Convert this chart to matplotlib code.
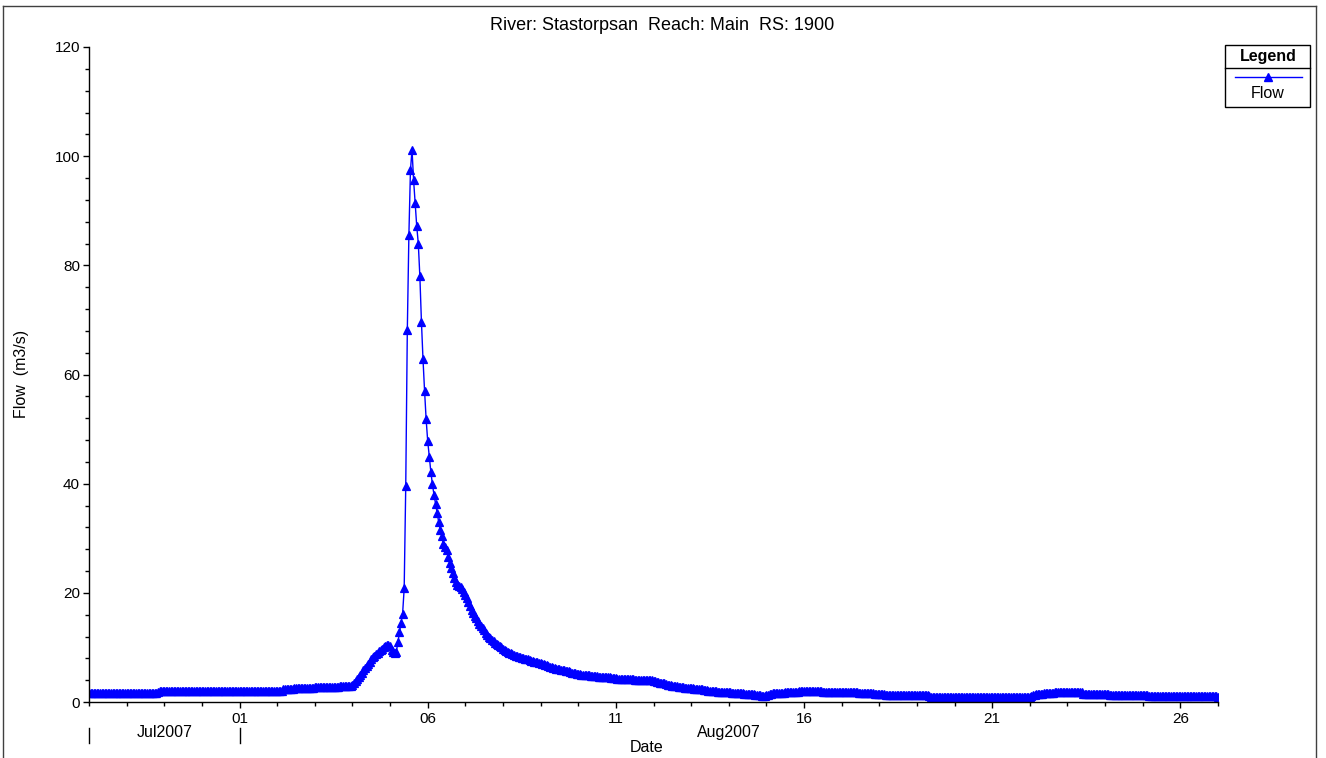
import numpy as np
import pandas as pd
import matplotlib
matplotlib.use("Agg")
import matplotlib.pyplot as plt
import matplotlib.dates as mdates
import matplotlib.transforms as mtransforms
from matplotlib.lines import Line2D
from matplotlib.patches import Rectangle

plt.rcParams['font.family'] = ['Liberation Sans', 'DejaVu Sans']

# hourly flow (m3/s), one row per day, starting 28 Jul 2007 00:00
start_time = "2007-07-28 00:00"
flow = [
    1.7, 1.7, 1.7, 1.7, 1.7, 1.7, 1.7, 1.7, 1.7, 1.7, 1.7, 1.7, 1.7, 1.7, 1.7, 1.7, 1.7, 1.7, 1.7, 1.7, 1.7, 1.7, 1.7, 1.7,
    1.7, 1.7, 1.7, 1.7, 1.7, 1.7, 1.7, 1.7, 1.7, 1.7, 1.7, 1.7, 1.7, 1.7, 1.7, 1.7, 1.7, 1.7, 1.7, 1.7, 1.9, 2.0, 2.0, 2.0,
    2.0, 2.0, 2.0, 2.0, 2.0, 2.0, 2.0, 2.0, 2.0, 2.0, 2.0, 2.0, 2.0, 2.0, 2.0, 2.0, 2.0, 2.0, 2.0, 2.0, 2.0, 2.0, 2.0, 2.0,
    2.0, 2.0, 2.0, 2.0, 2.0, 2.0, 2.0, 2.0, 2.0, 2.0, 2.0, 2.0, 2.0, 2.0, 2.0, 2.0, 2.0, 2.0, 2.0, 2.0, 2.0, 2.0, 2.0, 2.0,
    2.0, 2.0, 2.0, 2.0, 2.0, 2.0, 2.0, 2.0, 2.0, 2.0, 2.0, 2.0, 2.0, 2.0, 2.0, 2.0, 2.0, 2.0, 2.0, 2.0, 2.0, 2.0, 2.0, 2.0,
    2.0, 2.0, 2.0, 2.0, 2.3, 2.3, 2.3, 2.3, 2.3, 2.3, 2.3, 2.5, 2.5, 2.5, 2.5, 2.5, 2.5, 2.5, 2.5, 2.5, 2.5, 2.5, 2.5, 2.5,
    2.7, 2.7, 2.7, 2.7, 2.7, 2.7, 2.7, 2.7, 2.7, 2.7, 2.7, 2.7, 2.7, 2.7, 2.7, 2.7, 2.9, 2.9, 2.9, 2.9, 2.9, 2.9, 2.9, 2.9,
    3.1, 3.4, 3.8, 4.2, 4.6, 5.0, 5.4, 5.9, 6.3, 6.6, 7.0, 7.4, 7.8, 8.2, 8.5, 8.8, 9.0, 9.3, 9.5, 9.8, 10.0, 10.2, 10.4, 10.5,
    10.2, 9.6, 9.1, 8.9, 9.2, 11.0, 12.9, 14.5, 16.2, 20.8, 39.6, 68.1, 85.5, 97.4, 101.2, 95.6, 91.5, 87.2, 84.0, 78.0, 69.7, 62.8, 57.0, 51.8,
    47.8, 44.9, 42.2, 39.9, 38.0, 36.3, 34.6, 33.0, 31.5, 30.4, 28.9, 28.4, 27.8, 26.6, 25.4, 24.5, 23.6, 22.7, 22.0, 21.5, 21.2, 21.0, 20.7, 20.2,
    19.6, 19.0, 18.3, 17.6, 16.9, 16.3, 15.8, 15.3, 14.8, 14.3, 13.9, 13.5, 13.1, 12.7, 12.3, 12.0, 11.7, 11.4, 11.1, 10.8, 10.6, 10.4, 10.2, 10.0,
    9.8, 9.6, 9.4, 9.2, 9.0, 8.9, 8.8, 8.7, 8.5, 8.4, 8.3, 8.2, 8.1, 8.0, 7.9, 7.8, 7.8, 7.7, 7.6, 7.5, 7.4, 7.3, 7.3, 7.2,
    7.1, 7.0, 6.9, 6.8, 6.7, 6.6, 6.5, 6.4, 6.3, 6.2, 6.1, 6.0, 6.0, 5.9, 5.8, 5.8, 5.7, 5.6, 5.6, 5.5, 5.4, 5.3, 5.3, 5.2,
    5.1, 5.1, 5.0, 5.0, 5.0, 4.9, 4.9, 4.9, 4.8, 4.8, 4.7, 4.7, 4.7, 4.6, 4.6, 4.6, 4.5, 4.5, 4.5, 4.5, 4.5, 4.4, 4.4, 4.4,
    4.4, 4.3, 4.3, 4.3, 4.3, 4.3, 4.2, 4.2, 4.2, 4.2, 4.2, 4.2, 4.1, 4.1, 4.1, 4.1, 4.1, 4.1, 4.1, 4.1, 4.1, 4.0, 4.0, 4.0,
    3.9, 3.8, 3.7, 3.6, 3.5, 3.5, 3.4, 3.4, 3.3, 3.2, 3.2, 3.1, 3.0, 3.0, 2.9, 2.9, 2.8, 2.8, 2.7, 2.7, 2.6, 2.6, 2.6, 2.5,
    2.5, 2.5, 2.4, 2.4, 2.4, 2.3, 2.3, 2.3, 2.2, 2.2, 2.2, 2.1, 2.1, 2.1, 2.0, 2.0, 2.0, 1.9, 1.9, 1.9, 1.9, 1.8, 1.8, 1.8,
    1.8, 1.8, 1.7, 1.7, 1.7, 1.7, 1.6, 1.6, 1.6, 1.6, 1.5, 1.5, 1.5, 1.5, 1.4, 1.4, 1.4, 1.3, 1.3, 1.2, 1.2, 1.1, 1.1, 1.1,
    1.2, 1.3, 1.4, 1.5, 1.6, 1.6, 1.7, 1.7, 1.7, 1.7, 1.7, 1.7, 1.8, 1.8, 1.8, 1.8, 1.8, 1.8, 1.9, 1.9, 1.9, 2.0, 2.0, 2.0,
    2.0, 2.0, 2.0, 2.0, 2.0, 2.0, 2.0, 2.0, 2.0, 2.0, 2.0, 2.0, 1.9, 1.9, 1.9, 1.9, 1.9, 1.9, 1.9, 1.9, 1.9, 1.9, 1.9, 1.9,
    1.9, 1.9, 1.9, 1.9, 1.9, 1.9, 1.8, 1.8, 1.8, 1.8, 1.8, 1.7, 1.7, 1.7, 1.7, 1.6, 1.6, 1.6, 1.6, 1.6, 1.6, 1.5, 1.5, 1.5,
    1.5, 1.4, 1.4, 1.4, 1.3, 1.3, 1.3, 1.3, 1.3, 1.3, 1.3, 1.3, 1.3, 1.3, 1.3, 1.3, 1.3, 1.3, 1.3, 1.3, 1.3, 1.3, 1.3, 1.3,
    1.3, 1.3, 1.3, 1.3, 1.3, 1.3, 1.3, 1.2, 1.1, 1.0, 1.0, 1.0, 1.0, 1.0, 1.0, 1.0, 1.0, 1.0, 1.0, 1.0, 1.0, 1.0, 1.0, 1.0,
    1.0, 1.0, 1.0, 1.0, 1.0, 1.0, 1.0, 1.0, 1.0, 1.0, 1.0, 1.0, 1.0, 1.0, 1.0, 1.0, 1.0, 1.0, 1.0, 1.0, 1.0, 1.0, 1.0, 1.0,
    1.0, 1.0, 1.0, 1.0, 1.0, 1.0, 1.0, 1.0, 1.0, 1.0, 1.0, 1.0, 1.0, 1.0, 1.0, 1.0, 1.0, 1.0, 1.0, 1.0, 1.0, 1.0, 1.0, 1.0,
    1.0, 1.1, 1.2, 1.3, 1.4, 1.5, 1.5, 1.5, 1.5, 1.6, 1.6, 1.6, 1.7, 1.7, 1.7, 1.7, 1.8, 1.8, 1.8, 1.8, 1.8, 1.8, 1.8, 1.8,
    1.8, 1.8, 1.8, 1.8, 1.8, 1.8, 1.8, 1.8, 1.8, 1.8, 1.5, 1.5, 1.5, 1.5, 1.5, 1.5, 1.5, 1.5, 1.5, 1.5, 1.5, 1.5, 1.5, 1.5,
    1.5, 1.5, 1.5, 1.3, 1.3, 1.3, 1.3, 1.3, 1.3, 1.3, 1.3, 1.3, 1.3, 1.3, 1.3, 1.3, 1.3, 1.3, 1.3, 1.3, 1.3, 1.3, 1.3, 1.3,
    1.3, 1.3, 1.3, 1.3, 1.1, 1.1, 1.1, 1.1, 1.1, 1.1, 1.1, 1.1, 1.1, 1.1, 1.1, 1.1, 1.1, 1.1, 1.1, 1.1, 1.1, 1.1, 1.1, 1.1,
    1.1, 1.1, 1.1, 1.1, 1.1, 1.1, 1.1, 1.1, 1.1, 1.1, 1.1, 1.1, 1.1, 1.1, 1.1, 1.1, 1.1, 1.1, 1.1, 1.1, 1.1, 1.1, 1.1, 1.1,
    0.9,
]

title = "River: Stastorpsan  Reach: Main  RS: 1900"
month_labels = ["Jul2007", "Aug2007"]
month_edges = ["2007-07-28", "2007-08-01", "2007-08-27"]

times = pd.date_range(start_time, periods=len(flow), freq="h")

W, H = 1326, 758
fig = plt.figure(figsize=(W / 100, H / 100), dpi=100)

def fx(px):
    return px / W

def fy(py):
    return 1 - py / H

# axes box in pixels: x 89..1218, y 47..702
ax = fig.add_axes([fx(89), fy(702), fx(1218 - 89), (702 - 47) / H])
ax.plot(times, flow, color="#0000FF", lw=1.0, marker="^", markersize=5.5,
        markeredgewidth=0.9, markeredgecolor="#0000FF")

edges = pd.to_datetime(month_edges)
ax.set_xlim(edges[0], edges[-1])
ax.set_ylim(0, 120)

ax.spines["top"].set_visible(False)
ax.spines["right"].set_visible(False)
ax.spines["left"].set_linewidth(1.0)
ax.spines["bottom"].set_linewidth(1.0)

ax.xaxis.set_major_locator(mdates.DayLocator(bymonthday=[1, 6, 11, 16, 21, 26]))
ax.xaxis.set_minor_locator(mdates.DayLocator())
ax.xaxis.set_major_formatter(mdates.DateFormatter("%d"))
ax.yaxis.set_major_locator(plt.MultipleLocator(20))
ax.yaxis.set_minor_locator(plt.MultipleLocator(4))

ax.tick_params(axis="x", which="major", direction="out", length=4, width=1, pad=3.5, labelsize=11)
ax.tick_params(axis="x", which="minor", direction="out", length=3, width=1)
ax.tick_params(axis="y", which="major", direction="out", length=4.5, width=1, pad=2, labelsize=11)
ax.tick_params(axis="y", which="minor", direction="out", length=3, width=1)

# month row under the day labels
trans = mtransforms.blended_transform_factory(ax.transData, ax.transAxes)
for e in edges[:-1]:
    ax.add_line(Line2D([mdates.date2num(e)] * 2, [-0.040, -0.063], color="black",
                       lw=1, transform=trans, clip_on=False))
for i, lab in enumerate(month_labels):
    mid = (mdates.date2num(edges[i]) + mdates.date2num(edges[i + 1])) / 2
    ax.text(mid, -0.047, lab, transform=trans, ha="center", va="center", fontsize=11.5)

fig.text(fx(647), fy(748), "Date", ha="center", va="center", fontsize=11.5)
fig.text(fx(22), fy(374), "Flow  (m3/s)", ha="center", va="center", rotation=90, fontsize=11.5)
fig.text(fx(662), fy(25), title, ha="center", va="center", fontsize=13)

# outer frame
frame_kw = dict(color="#404040", lw=1, transform=fig.transFigure)
fig.add_artist(Line2D([fx(3), fx(1316)], [fy(6), fy(6)], **frame_kw))
fig.add_artist(Line2D([fx(3), fx(3)], [fy(6), 0], **frame_kw))
fig.add_artist(Line2D([fx(1316), fx(1316)], [fy(6), 0], **frame_kw))

# legend box
fig.add_artist(Rectangle((fx(1225), fy(107)), fx(1310 - 1225), (107 - 45) / H,
                         fill=False, edgecolor="black", lw=1, transform=fig.transFigure))
fig.add_artist(Line2D([fx(1225), fx(1310)], [fy(68), fy(68)], color="black", lw=1,
                      transform=fig.transFigure))
fig.text(fx(1268), fy(57), "Legend", ha="center", va="center", fontsize=11.5, fontweight="bold")
fig.add_artist(Line2D([fx(1235), fx(1302)], [fy(77), fy(77)], color="#0000FF", lw=1,
                      transform=fig.transFigure))
fig.add_artist(Line2D([fx(1268)], [fy(77)], color="#0000FF", marker="^", markersize=5.5,
                      transform=fig.transFigure))
fig.text(fx(1268), fy(93), "Flow", ha="center", va="center", fontsize=11.5)

fig.savefig("out.png", dpi=100)
